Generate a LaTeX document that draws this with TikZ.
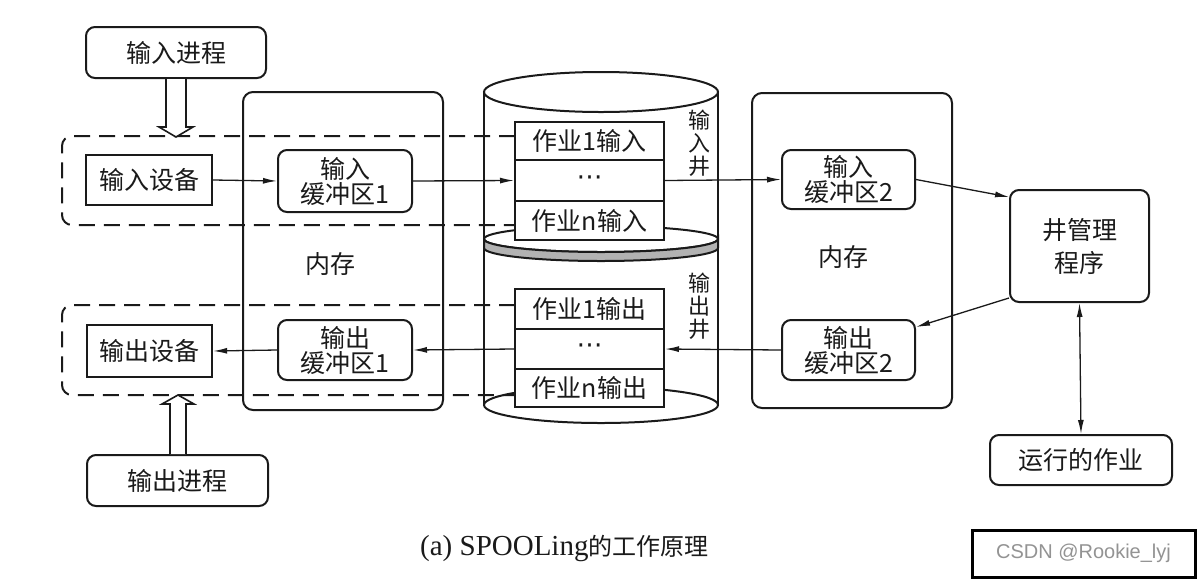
\documentclass[tikz,border=0pt]{standalone}
\usepackage{fontspec}
\setmainfont{Liberation Serif}
\newfontfamily\cjk{Noto Sans CJK SC}
\newfontfamily\dejavu{DejaVu Sans}
\newfontfamily\wmfont{Liberation Sans}
\usetikzlibrary{arrows.meta}
\definecolor{ink}{HTML}{1A1A1A}
\tikzset{
  every node/.style={font=\fontsize{25}{25}\selectfont\cjk, text=ink},
  rbox/.style={draw=ink, line width=2pt, rounded corners=9pt, fill=white, align=center, inner sep=0pt},
  sbox/.style={draw=ink, line width=2.4pt, fill=white, align=center, inner sep=0pt},
  jobbox/.style={draw=ink, line width=2pt, fill=white, align=center, inner sep=0pt, minimum width=149pt},
  membox/.style={draw=ink, line width=2pt, rounded corners=10pt, inner sep=0pt, minimum width=200pt},
  arr/.style={draw=ink, line width=1.3pt, -{Latex[length=14pt,width=6pt]}},
  darr/.style={draw=ink, line width=1.3pt, {Latex[length=14pt,width=6pt]}-{Latex[length=14pt,width=6pt]}},
  dashreg/.style={draw=ink, line width=2pt, dash pattern=on 16pt off 9pt, rounded corners=10pt},
  hollow/.style={draw=ink, line width=1.6pt, fill=white, line join=miter},
  cyl/.style={draw=ink, line width=2pt},
  vlabel/.style={font=\fontsize{22}{23}\selectfont\cjk, align=center, inner sep=0pt},
  dots/.style={font=\fontsize{26}{26}\selectfont\dejavu},
}
\begin{document}
\begin{tikzpicture}[x=1pt,y=-1pt]
\useasboundingbox[fill=white] (0,0) rectangle (1199,582);

% memory boxes
\node[membox, minimum height=318pt] (mem1) at (343,251) {};
\node[membox, minimum height=315pt] (mem2) at (852,250.5) {};

% cylinder
\draw[cyl] (484,92) -- (484,405);
\draw[cyl] (718,92) -- (718,405);
\draw[cyl] (601,92) ellipse [x radius=117pt, y radius=20pt];
\draw[cyl, fill=white] (601,405) ellipse [x radius=117pt, y radius=18pt];
\draw[cyl, fill=white] (601,239) ellipse [x radius=117pt, y radius=13pt];
\filldraw[cyl, fill=gray!60] (484,239) arc[start angle=180, end angle=360, x radius=117pt, y radius=13pt]
  -- (718,248) arc[start angle=0, end angle=-180, x radius=117pt, y radius=13pt] -- cycle;

% dashed regions
\draw[dashreg] (515,136) -- (62,136) -- (62,225) -- (515,225);
\draw[dashreg] (515,305) -- (62,305) -- (62,395) -- (515,395);

% job boxes
\node[jobbox, minimum height=38pt] (jin1) at (589.5,141) {作业1输入};
\node[jobbox, minimum height=41pt, dots] (jin2) at (589.5,180.5) {⋯};
\node[jobbox, minimum height=39pt] (jin3) at (589.5,220.5) {作业n输入};
\node[jobbox, minimum height=40pt] (jout1) at (589.5,309) {作业1输出};
\node[jobbox, minimum height=40pt, dots] (jout2) at (589.5,349) {⋯};
\node[jobbox, minimum height=38pt] (jout3) at (589.5,388) {作业n输出};

% vertical labels
\node[vlabel] (lin) at (699,143) {输\\入\\井};
\node[vlabel] (lout) at (699,306) {输\\出\\井};

% other boxes
\node[rbox, minimum width=180pt, minimum height=51pt] (inproc) at (176,52.5) {输入进程};
\node[sbox, minimum width=126pt, minimum height=50pt] (indev) at (149,180) {输入设备};
\node[rbox, minimum width=134pt, minimum height=62pt] (bin1) at (345,181) {输入\\缓冲区1};
\node[rbox, minimum width=133pt, minimum height=59pt] (bin2) at (848.5,179.5) {输入\\缓冲区2};
\node[rbox, minimum width=133pt, minimum height=60pt] (bout2) at (848.5,350) {输出\\缓冲区2};
\node[rbox, minimum width=134pt, minimum height=60pt] (bout1) at (345,350) {输出\\缓冲区1};
\node[sbox, minimum width=125pt, minimum height=52pt] (outdev) at (149.5,351) {输出设备};
\node[rbox, minimum width=181pt, minimum height=51pt] (outproc) at (177.5,480.5) {输出进程};
\node[rbox, minimum width=139pt, minimum height=112pt, font=\fontsize{25}{33}\selectfont\cjk] (mgr) at (1079.5,246) {井管理\\程序};
\node[rbox, minimum width=182pt, minimum height=50pt] (run) at (1081,460) {运行的作业};

% memory labels
\node (m1) at (330,264) {内存};
\node (m2) at (843,257) {内存};

% connectors
\draw[arr] (indev.east) -- (bin1.west);
\draw[arr] (bin1.east) -- (jin2.west);
\draw[arr] (jin2.east) -- (bin2.west);
\draw[arr] (bin2.east) -- ([yshift=-8pt]mgr.north west);
\draw[arr] ([yshift=5pt]mgr.south west) -- ([yshift=23pt]bout2.east);
\draw[arr] (bout2.west) -- (jout2.east);
\draw[arr] (jout2.west) -- (bout1.east);
\draw[arr] (bout1.west) -- (outdev.east);
\draw[darr] (mgr.south) -- (run.north);

% hollow arrows
\coordinate (tipin) at (176,137);
\draw[hollow] ([xshift=-10pt]inproc.south) -- (166,127) -- (159,127) -- (tipin) -- (193,127) -- (186,127) -- ([xshift=10pt]inproc.south);
\coordinate (tipout) at (178,395);
\draw[hollow] ([xshift=-7.5pt]outproc.north) -- (170,404) -- (162,404) -- (tipout) -- (194,404) -- (186,404) -- ([xshift=8.5pt]outproc.north);

% caption
\node[font=\fontsize{29}{29}\selectfont, anchor=west, inner sep=0pt] (cap) at (420,548) {(a) SPOOLing{\fontsize{24}{24}\selectfont\cjk 的工作原理}};

% watermark
\node[draw=black, line width=3pt, minimum width=223pt, minimum height=47pt, inner sep=0pt, font=\fontsize{20}{20}\selectfont\wmfont, text=gray!85] (wm) at (1083.5,553.5) {CSDN @Rookie\_lyj};
\end{tikzpicture}
\end{document}
